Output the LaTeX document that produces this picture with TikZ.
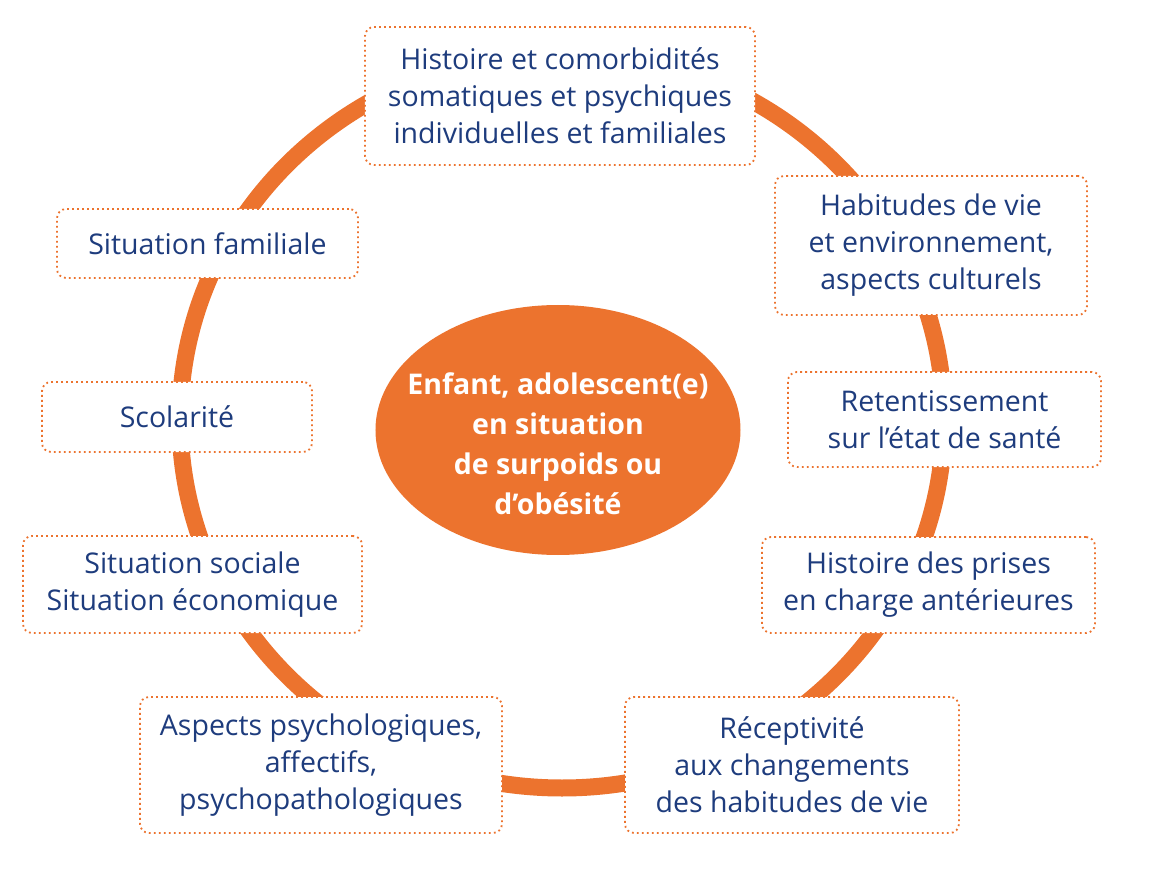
\documentclass[tikz,border=0pt]{standalone}
\usepackage{fontspec}
\setmainfont{Open Sans}
\usepackage{tikz}
\usetikzlibrary{shapes,calc}

\definecolor{hasorange}{RGB}{236,115,46}
\definecolor{hasblue}{RGB}{30,60,125}

\begin{document}
\begin{tikzpicture}[x=1pt,y=1pt]
    \tikzstyle{ring}=[line width=17pt,draw=hasorange]
    \tikzstyle{topic}=[
      rectangle,
      rounded corners=9pt,
      draw=hasorange,
      line width=1.8pt,
      dash pattern=on 1.8pt off 3.2pt,
      fill=white,
      text=hasblue,
      align=center,
      inner sep=0pt,
      font=\fontsize{28.5}{37}\selectfont,
    ]
    \tikzstyle{child}=[
      ellipse,
      fill=hasorange,
      text=white,
      align=center,
      inner xsep=-30pt,
      inner ysep=0pt,
      font=\bfseries\fontsize{28.5}{40}\selectfont,
    ]

    \useasboundingbox (-562,420) rectangle (589,-450);
    \coordinate (ringAnchor) at (0,0);

    % ring
    {
      \draw[ring] (ringAnchor) ellipse [x radius=382, y radius=368];
    }

    % centre
    {
      \node[child, minimum width=365pt, minimum height=250pt] (child) at ([xshift=-4pt, yshift=-10pt] ringAnchor) {\rule{0pt}{50pt}Enfant, adolescent(e)\\en situation\\de surpoids ou\\d’obésité};
    }

    % topics, clockwise from the top
    {
      \node[topic, minimum width=390pt, minimum height=138pt] (histoire) at ([xshift=-2pt, yshift=324pt] ringAnchor) {Histoire et comorbidités\\somatiques et psychiques\\individuelles et familiales};
      \node[topic, minimum width=312pt, minimum height=139pt] (habitudes) at ([xshift=369pt, yshift=174.5pt] ringAnchor) {Habitudes de vie\\et environnement,\\aspects culturels};
      \node[topic, minimum width=313pt, minimum height=95pt] (sante) at ([xshift=382.5pt, yshift=0.5pt] ringAnchor) {Retentissement\\sur l’état de santé};
      \node[topic, minimum width=333pt, minimum height=96pt] (prises) at ([xshift=366.5pt, yshift=-165pt] ringAnchor) {Histoire des prises\\en charge antérieures};
      \node[topic, minimum width=334pt, minimum height=136pt] (receptivite) at ([xshift=230pt, yshift=-345pt] ringAnchor) {Réceptivité\\aux changements\\des habitudes de vie};
      \node[topic, minimum width=362pt, minimum height=136pt] (psycho) at ([xshift=-241pt, yshift=-345pt] ringAnchor) {Aspects psychologiques,\\affectifs,\\psychopathologiques};
      \node[topic, minimum width=339pt, minimum height=97pt] (social) at ([xshift=-369.5pt, yshift=-164.5pt] ringAnchor) {Situation sociale\\Situation économique};
      \node[topic, minimum width=270pt, minimum height=70pt] (scolarite) at ([xshift=-385pt, yshift=3pt] ringAnchor) {Scolarité};
      \node[topic, minimum width=301pt, minimum height=69pt] (famille) at ([xshift=-354.5pt, yshift=176.5pt] ringAnchor) {Situation familiale};
    }
\end{tikzpicture}
\end{document}
